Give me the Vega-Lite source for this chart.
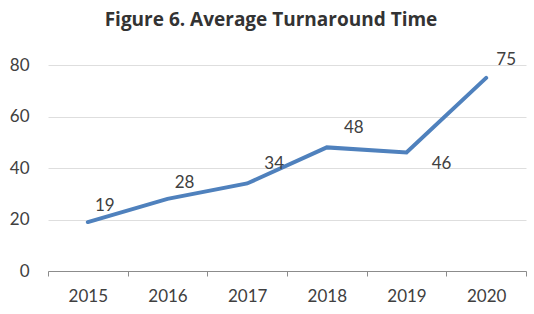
{
  "$schema": "https://vega.github.io/schema/vega-lite/v6.json",
  "width": 478,
  "height": 206,
  "autosize": {"type": "none"},
  "padding": {"left": 48, "top": 65, "right": 8, "bottom": 43},
  "background": "white",
  "title": {
    "text": "Figure 6. Average Turnaround Time",
    "font": "Open Sans",
    "fontSize": 19,
    "fontWeight": "bold",
    "color": "#333333",
    "anchor": "middle",
    "dx": -16,
    "offset": 21
  },
  "config": {
    "view": {"stroke": null},
    "axis": {"labelFont": "Lato", "labelFontSize": 17, "labelColor": "#404040"}
  },
  "data": {
    "values": [
      {"year": "2015", "days": 19},
      {"year": "2016", "days": 28},
      {"year": "2017", "days": 34},
      {"year": "2018", "days": 48},
      {"year": "2019", "days": 46},
      {"year": "2020", "days": 75}
    ]
  },
  "encoding": {
    "x": {
      "field": "year",
      "type": "ordinal",
      "scale": {"paddingInner": 0, "paddingOuter": 0},
      "axis": {
        "title": null,
        "labelAngle": 0,
        "domainColor": "#8c8c8c",
        "tickColor": "#8c8c8c",
        "tickSize": 5,
        "tickBand": "extent",
        "labelPadding": 12
      }
    },
    "y": {
      "field": "days",
      "type": "quantitative",
      "scale": {"domain": [0, 80]},
      "axis": {
        "title": null,
        "values": [0, 20, 40, 60, 80],
        "domain": false,
        "ticks": false,
        "gridColor": "#dedede",
        "labelPadding": 19
      }
    }
  },
  "layer": [
    {
      "mark": {"type": "line", "color": "#4f81bd", "strokeWidth": 4, "strokeCap": "round"}
    },
    {
      "transform": [{"filter": "datum.days < 30"}],
      "mark": {"type": "text", "font": "Lato", "fontSize": 17, "color": "#404040", "dx": 17, "dy": -16},
      "encoding": {"text": {"field": "days"}}
    },
    {
      "transform": [{"filter": "datum.days == 34 || datum.days == 48"}],
      "mark": {"type": "text", "font": "Lato", "fontSize": 17, "color": "#404040", "dx": 27, "dy": -19},
      "encoding": {"text": {"field": "days"}}
    },
    {
      "transform": [{"filter": "datum.days == 46"}],
      "mark": {"type": "text", "font": "Lato", "fontSize": 17, "color": "#404040", "dx": 35, "dy": 11},
      "encoding": {"text": {"field": "days"}}
    },
    {
      "transform": [{"filter": "datum.days == 75"}],
      "mark": {"type": "text", "font": "Lato", "fontSize": 17, "color": "#404040", "dx": 20, "dy": -18},
      "encoding": {"text": {"field": "days"}}
    }
  ]
}
